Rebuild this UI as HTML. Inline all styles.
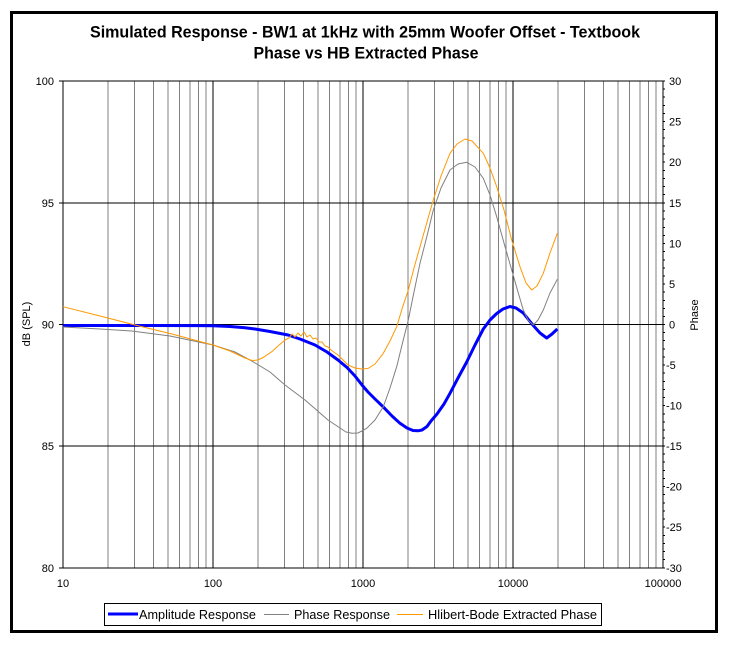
<!DOCTYPE html>
<html><head><meta charset="utf-8"><style>
html,body{margin:0;padding:0;background:#fff;}
svg{display:block;}
text{font-family:"Liberation Sans",Arial,sans-serif;fill:#000;}
</style></head><body>
<svg width="734" height="647" viewBox="0 0 734 647" xmlns="http://www.w3.org/2000/svg">
<rect x="0" y="0" width="734" height="647" fill="#fff"/>
<rect x="11.5" y="12.5" width="705" height="619" fill="#fff" stroke="#000" stroke-width="3"/>
<text x="365" y="37.7" font-size="16.5" font-weight="bold" text-anchor="middle" textLength="550" lengthAdjust="spacingAndGlyphs">Simulated Response - BW1 at 1kHz with 25mm Woofer Offset  - Textbook</text>
<text x="366" y="58.3" font-size="16.5" font-weight="bold" text-anchor="middle" textLength="225" lengthAdjust="spacingAndGlyphs">Phase vs HB Extracted Phase</text>
<g shape-rendering="crispEdges" stroke-width="1">
<g stroke="#808080">
<line x1="108.2" y1="81" x2="108.2" y2="568"/><line x1="134.6" y1="81" x2="134.6" y2="568"/><line x1="153.3" y1="81" x2="153.3" y2="568"/><line x1="167.8" y1="81" x2="167.8" y2="568"/><line x1="179.7" y1="81" x2="179.7" y2="568"/><line x1="189.8" y1="81" x2="189.8" y2="568"/><line x1="198.5" y1="81" x2="198.5" y2="568"/><line x1="206.1" y1="81" x2="206.1" y2="568"/>
<line x1="258.2" y1="81" x2="258.2" y2="568"/><line x1="284.6" y1="81" x2="284.6" y2="568"/><line x1="303.3" y1="81" x2="303.3" y2="568"/><line x1="317.8" y1="81" x2="317.8" y2="568"/><line x1="329.7" y1="81" x2="329.7" y2="568"/><line x1="339.8" y1="81" x2="339.8" y2="568"/><line x1="348.5" y1="81" x2="348.5" y2="568"/><line x1="356.1" y1="81" x2="356.1" y2="568"/>
<line x1="408.2" y1="81" x2="408.2" y2="568"/><line x1="434.6" y1="81" x2="434.6" y2="568"/><line x1="453.3" y1="81" x2="453.3" y2="568"/><line x1="467.8" y1="81" x2="467.8" y2="568"/><line x1="479.7" y1="81" x2="479.7" y2="568"/><line x1="489.8" y1="81" x2="489.8" y2="568"/><line x1="498.5" y1="81" x2="498.5" y2="568"/><line x1="506.1" y1="81" x2="506.1" y2="568"/>
<line x1="558.2" y1="81" x2="558.2" y2="568"/><line x1="584.6" y1="81" x2="584.6" y2="568"/><line x1="603.3" y1="81" x2="603.3" y2="568"/><line x1="617.8" y1="81" x2="617.8" y2="568"/><line x1="629.7" y1="81" x2="629.7" y2="568"/><line x1="639.8" y1="81" x2="639.8" y2="568"/><line x1="648.5" y1="81" x2="648.5" y2="568"/><line x1="656.1" y1="81" x2="656.1" y2="568"/>
</g>
<g stroke="#000">
<line x1="213" y1="81" x2="213" y2="568"/><line x1="363" y1="81" x2="363" y2="568"/><line x1="513" y1="81" x2="513" y2="568"/>
<line x1="59" y1="81" x2="665" y2="81"/><line x1="59" y1="203" x2="665" y2="203"/><line x1="59" y1="324.5" x2="665" y2="324.5"/><line x1="59" y1="446" x2="665" y2="446"/><line x1="59" y1="568" x2="665" y2="568"/>
<line x1="63" y1="81" x2="63" y2="568"/><line x1="663" y1="81" x2="663" y2="568"/>
</g>
<g stroke="#000">
<line x1="663" y1="89.1" x2="665" y2="89.1"/><line x1="663" y1="97.2" x2="665" y2="97.2"/><line x1="663" y1="105.4" x2="665" y2="105.4"/><line x1="663" y1="113.5" x2="665" y2="113.5"/><line x1="663" y1="121.6" x2="665" y2="121.6"/>
<line x1="663" y1="129.7" x2="665" y2="129.7"/><line x1="663" y1="137.8" x2="665" y2="137.8"/><line x1="663" y1="145.9" x2="665" y2="145.9"/><line x1="663" y1="154.1" x2="665" y2="154.1"/><line x1="663" y1="162.2" x2="665" y2="162.2"/>
<line x1="663" y1="170.3" x2="665" y2="170.3"/><line x1="663" y1="178.4" x2="665" y2="178.4"/><line x1="663" y1="186.5" x2="665" y2="186.5"/><line x1="663" y1="194.6" x2="665" y2="194.6"/>
<line x1="663" y1="211.1" x2="665" y2="211.1"/><line x1="663" y1="219.2" x2="665" y2="219.2"/><line x1="663" y1="227.3" x2="665" y2="227.3"/><line x1="663" y1="235.4" x2="665" y2="235.4"/><line x1="663" y1="243.5" x2="665" y2="243.5"/>
<line x1="663" y1="251.6" x2="665" y2="251.6"/><line x1="663" y1="259.8" x2="665" y2="259.8"/><line x1="663" y1="267.9" x2="665" y2="267.9"/><line x1="663" y1="276" x2="665" y2="276"/><line x1="663" y1="284.1" x2="665" y2="284.1"/>
<line x1="663" y1="292.2" x2="665" y2="292.2"/><line x1="663" y1="300.3" x2="665" y2="300.3"/><line x1="663" y1="308.5" x2="665" y2="308.5"/><line x1="663" y1="316.6" x2="665" y2="316.6"/>
<line x1="663" y1="332.6" x2="665" y2="332.6"/><line x1="663" y1="340.7" x2="665" y2="340.7"/><line x1="663" y1="348.9" x2="665" y2="348.9"/><line x1="663" y1="357" x2="665" y2="357"/><line x1="663" y1="365.1" x2="665" y2="365.1"/>
<line x1="663" y1="373.2" x2="665" y2="373.2"/><line x1="663" y1="381.3" x2="665" y2="381.3"/><line x1="663" y1="389.4" x2="665" y2="389.4"/><line x1="663" y1="397.6" x2="665" y2="397.6"/><line x1="663" y1="405.7" x2="665" y2="405.7"/>
<line x1="663" y1="413.8" x2="665" y2="413.8"/><line x1="663" y1="421.9" x2="665" y2="421.9"/><line x1="663" y1="430" x2="665" y2="430"/><line x1="663" y1="438.1" x2="665" y2="438.1"/>
<line x1="663" y1="454.1" x2="665" y2="454.1"/><line x1="663" y1="462.2" x2="665" y2="462.2"/><line x1="663" y1="470.4" x2="665" y2="470.4"/><line x1="663" y1="478.5" x2="665" y2="478.5"/><line x1="663" y1="486.6" x2="665" y2="486.6"/>
<line x1="663" y1="494.7" x2="665" y2="494.7"/><line x1="663" y1="502.8" x2="665" y2="502.8"/><line x1="663" y1="510.9" x2="665" y2="510.9"/><line x1="663" y1="519.1" x2="665" y2="519.1"/><line x1="663" y1="527.2" x2="665" y2="527.2"/>
<line x1="663" y1="535.3" x2="665" y2="535.3"/><line x1="663" y1="543.4" x2="665" y2="543.4"/><line x1="663" y1="551.5" x2="665" y2="551.5"/><line x1="663" y1="559.6" x2="665" y2="559.6"/>
</g>
</g>
<polyline fill="none" stroke="#0000ff" stroke-width="3" stroke-linejoin="round" points="63,325.5 150,325.5 200,325.6 213,325.8 230,326.5 245,327.8 255,329 270,331.5 288,335 300,339 315,345 327,352 338,360 347,367.5 355,376 362,385 368,392 375,399 383,406.7 392,416 400,423.3 407,428 413,430.5 418,430.8 422,430 427,426.5 431,421 437,414 444,404 450,393.3 458,378 466.7,362 475,345 483.3,329 490,320 496.7,313.5 503,309 510,306.5 516,308 523.3,313 528,319 533.3,325.5 540,333 546.7,338 552,334 557.3,329"/>
<polyline fill="none" stroke="#808080" stroke-width="1" stroke-linejoin="round" points="63,327 100,329 131.7,331 170,336 213,345 235,352 253,361.7 270,372 285,385 305,400 320,413 328,420 340,428 346,432 352,433.3 358,433 366.7,428.3 375,420 383.3,406.7 390,388 396.7,366.7 402,345 408.3,320 414,292 420,263.3 427,236 433.3,210 441,188 450,170 458,164 466.7,162.3 475,167 483.3,178.3 490,195 496.7,216.7 504,243 511.7,270 518,292 523.3,310 528,320 533.3,325 538,320 543.3,310 550,293 557.3,279.3"/>
<polyline fill="none" stroke="#ff9900" stroke-width="1" stroke-linejoin="round" points="63,306.7 100,316 135,325 170,333.5 213,345 230,351 245,358 252,360.5 258,360 264,357 271.7,351.7 278,346 285,340 289,338 292,334 295,337 298,333 301,336 304,332 307,337 310,335 313,339 316,338 319,342 322,342 325,346 328,347 331,350 335,353 338,355 343,360 348,365 355,368 362,369 368,368.5 375,364 383.3,353.3 390,341 396.7,326.7 402,309 408.3,290 414,268 420,246.7 427,222 433.3,200 441,176 450,153.3 457,144 465,139 472,141 483.3,153.3 490,168 496.7,186.7 504,210 511.7,240 520,266.7 526,283 531.7,290 537,286 543.3,273.3 550,253 557.3,233.3"/>
<g font-size="11" text-anchor="end">
<text x="54" y="85">100</text><text x="54" y="207">95</text><text x="54" y="328.5">90</text><text x="54" y="450">85</text><text x="54" y="572">80</text>
</g>
<g font-size="11">
<text x="669" y="85">30</text><text x="669" y="125.6">25</text><text x="669" y="166.2">20</text><text x="669" y="207">15</text><text x="669" y="247.5">10</text><text x="669" y="288.1">5</text><text x="669" y="328.5">0</text>
<text x="666" y="369.1">-5</text><text x="666" y="409.7">-10</text><text x="666" y="450">-15</text><text x="666" y="490.6">-20</text><text x="666" y="531.2">-25</text><text x="666" y="572">-30</text>
</g>
<g font-size="11" text-anchor="middle">
<text x="63" y="587">10</text><text x="213" y="587">100</text><text x="363" y="587">1000</text><text x="513" y="587">10000</text><text x="663" y="587">100000</text>
</g>
<text font-size="11" text-anchor="middle" transform="translate(30,324) rotate(-90)">dB (SPL)</text>
<text font-size="11" text-anchor="middle" transform="translate(698,315) rotate(-90)">Phase</text>
<rect x="104.5" y="603.5" width="497" height="22" fill="#fff" stroke="#000" stroke-width="1" shape-rendering="crispEdges"/>
<line x1="108" y1="614" x2="138" y2="614" stroke="#0000ff" stroke-width="3"/>
<line x1="264" y1="614.5" x2="289" y2="614.5" stroke="#808080" stroke-width="1"/>
<line x1="397" y1="614.5" x2="423" y2="614.5" stroke="#ff9900" stroke-width="1"/>
<g font-size="12.5">
<text x="139" y="619" textLength="117" lengthAdjust="spacingAndGlyphs">Amplitude Response</text>
<text x="294" y="619" textLength="96" lengthAdjust="spacingAndGlyphs">Phase Response</text>
<text x="428" y="619" textLength="169" lengthAdjust="spacingAndGlyphs">Hlibert-Bode Extracted Phase</text>
</g>
</svg>
</body></html>
